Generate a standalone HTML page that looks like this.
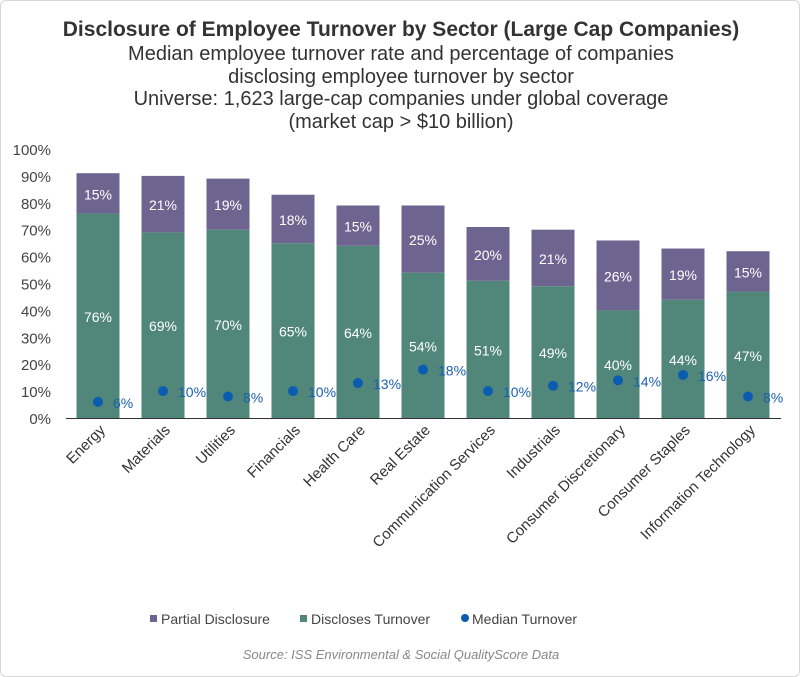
<!DOCTYPE html>
<html><head><meta charset="utf-8">
<style>
body{margin:0;background:#fff;}
#wrap{position:relative;width:798px;height:675px;border:1px solid #d6d6d6;border-radius:6px;overflow:hidden;font-family:"Liberation Sans",sans-serif;}
.t{position:absolute;left:0;width:800px;text-align:center;color:#333;}
</style></head>
<body>
<div id="wrap">
<div class="t" style="top:17px;font-size:21px;font-weight:bold;color:#333">Disclosure of Employee Turnover by Sector (Large Cap Companies)</div>
<div class="t" style="top:42px;font-size:20px;line-height:22.5px">Median employee turnover rate and percentage of companies<br>disclosing employee turnover by sector<br>Universe: 1,623 large-cap companies under global coverage<br>(market cap &gt; $10 billion)</div>
<svg id="chart" width="800" height="677" style="position:absolute;left:0;top:0"></svg>
<div class="t" style="top:646px;font-size:13px;font-style:italic;color:#888">Source: ISS Environmental &amp; Social QualityScore Data</div>
</div>
<script>
const categories=["Energy","Materials","Utilities","Financials","Health Care","Real Estate","Communication Services","Industrials","Consumer Discretionary","Consumer Staples","Information Technology"];
const disclosesValues=[76,69,70,65,64,54,51,49,40,44,47];
const partialValues=[15,21,19,18,15,25,20,21,26,19,15];
const medianValues=[6,10,8,10,13,18,10,12,14,16,8];
const yTicks=[0,10,20,30,40,50,60,70,80,90,100];
const NS="http://www.w3.org/2000/svg";
const svg=document.getElementById('chart');
const y0=417,y100=148;
const y=v=>y0-(y0-y100)*v/100;
const x=i=>97+i*65;
const bw=43;
function mk(tag,attrs,parent){const e=document.createElementNS(NS,tag);for(const k in attrs)e.setAttribute(k,attrs[k]);(parent||svg).appendChild(e);return e;}
yTicks.forEach(t=>{const e=mk('text',{x:50,y:y(t)+6,'text-anchor':'end','font-size':15,fill:'#444','font-family':'Liberation Sans, sans-serif'});e.textContent=t+'%';

});
categories.forEach((c,i)=>{
 const d=disclosesValues[i],p=partialValues[i],m=medianValues[i];
 const r1=mk('rect',{x:x(i)-bw/2,y:y(d),width:bw,height:y(0)-y(d),fill:'#50877a'});
 
 
 const r2=mk('rect',{x:x(i)-bw/2,y:y(d+p),width:bw,height:y(d)-y(d+p),fill:'#6d6590'});
 
 
 const t1=mk('text',{x:x(i),y:y(d/2)+6,'text-anchor':'middle','font-size':14,fill:'#fff','font-family':'Liberation Sans, sans-serif'});t1.textContent=d+'%';
 
 
 const t2=mk('text',{x:x(i),y:y(d+p/2)+6,'text-anchor':'middle','font-size':14,fill:'#fff','font-family':'Liberation Sans, sans-serif'});t2.textContent=p+'%';
 
 
 const dot=mk('circle',{cx:x(i),cy:y(m),r:5,fill:'#0b5bb0'});
 
 
 const t3=mk('text',{x:x(i)+15,y:y(m)+6,'font-size':14,fill:'#1a5fb0','font-family':'Liberation Sans, sans-serif'});t3.textContent=m+'%';
 
 
 const xl=mk('text',{x:x(i)+8,y:430,'text-anchor':'end','font-size':15,fill:'#333','font-family':'Liberation Sans, sans-serif',transform:`rotate(-45 ${x(i)+8} 430)`});xl.textContent=c;
 
 
});
const ax=mk('line',{x1:65,x2:780,y1:y0+0.5,y2:y0+0.5,stroke:'#333','stroke-width':1});


const lg=mk('g',{});


const items=[["Partial Disclosure","#6d6590",149,'r'],["Discloses Turnover","#50877a",299,'r'],["Median Turnover","#0b5bb0",460,'c']];
items.forEach(([n,c,lx,s])=>{
 const g=mk('g',{},lg);
 
 
 if(s==='r')mk('rect',{x:lx,y:614,width:7,height:7,fill:c},g);else mk('circle',{cx:lx+4,cy:617,r:4,fill:c},g);
 const t=mk('text',{x:lx+11,y:623,'font-size':14,fill:'#444','font-family':'Liberation Sans, sans-serif'},g);t.textContent=n;
});
</script>
</body></html>
